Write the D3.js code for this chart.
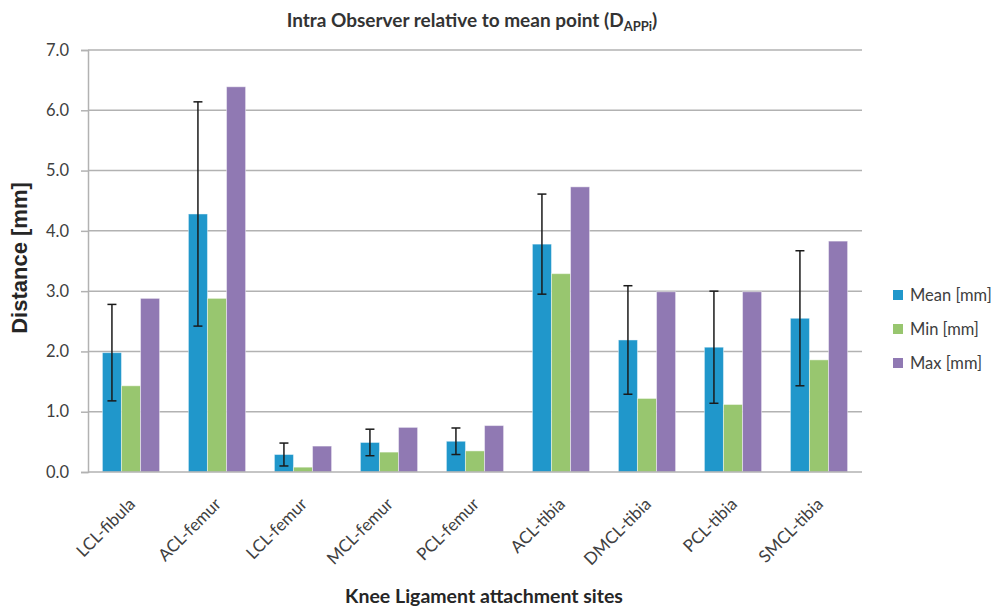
<!DOCTYPE html>
<html>
<head>
<meta charset="utf-8">
<script src="https://cdn.jsdelivr.net/npm/d3@7/dist/d3.min.js"></script>
<style>
  html, body { margin: 0; padding: 0; background: #fff; }
  svg { display: block; }
</style>
</head>
<body>
<svg id="chart" width="996" height="611"></svg>
<script>
// ---- Data ----
const categories = ["LCL-fibula","ACL-femur","LCL-femur","MCL-femur","PCL-femur","ACL-tibia","DMCL-tibia","PCL-tibia","SMCL-tibia"];
const meanVals = [1.98, 4.28, 0.29, 0.49, 0.51, 3.78, 2.19, 2.07, 2.55];
const minVals  = [1.43, 2.88, 0.08, 0.33, 0.35, 3.29, 1.22, 1.12, 1.86];
const maxVals  = [2.88, 6.39, 0.43, 0.74, 0.77, 4.73, 2.99, 2.99, 3.83];
const sdVals   = [0.80, 1.86, 0.19, 0.22, 0.22, 0.83, 0.90, 0.93, 1.12];
const seriesNames = ["Mean [mm]", "Min [mm]", "Max [mm]"];
const seriesColors = ["#2097CB", "#98C66F", "#9079B3"];
const yTicks = [0, 1, 2, 3, 4, 5, 6, 7];

const seriesValues = [meanVals, minVals, maxVals];

// ---- Layout ----
const svg = d3.select("#chart");
const plotLeft = 88, plotRight = 862, plotTop = 50, plotBottom = 472;

const x0 = d3.scaleBand().domain(categories).range([plotLeft, plotRight])
  .paddingInner(0.335).paddingOuter(0.335 / 2);
const x1 = d3.scaleBand().domain(seriesNames).range([0, x0.bandwidth()]).padding(0);
const y = d3.scaleLinear().domain([0, 7]).range([plotBottom, plotTop]);

const gridColor = "#B2B2B2";
const textColor = "#404040";
const font = "Lato, 'Open Sans', sans-serif";

// gridlines
svg.append("g").selectAll("line").data(yTicks.filter(t => t > 0)).join("line")
  .attr("x1", plotLeft).attr("x2", plotRight)
  .attr("y1", d => y(d)).attr("y2", d => y(d))
  .attr("stroke", gridColor).attr("stroke-width", 1.5);

// y axis
const yAxis = svg.append("g").attr("transform", `translate(${plotLeft},0)`)
  .call(d3.axisLeft(y).tickValues(yTicks).tickFormat(d3.format(".1f")).tickSize(7).tickPadding(12));
yAxis.select(".domain").attr("stroke", gridColor).attr("stroke-width", 1.5);
yAxis.selectAll(".tick line").attr("stroke", gridColor).attr("stroke-width", 1.5);
yAxis.selectAll(".tick text").attr("fill", textColor)
  .style("font-family", font).style("font-size", "16.5px");

// bars
const groups = svg.append("g").selectAll("g").data(categories).join("g")
  .attr("transform", d => `translate(${x0(d)},0)`);
groups.selectAll("rect")
  .data((c, i) => seriesNames.map((s, k) => ({ s, k, v: seriesValues[k][i] })))
  .join("rect")
  .attr("x", d => x1(d.s))
  .attr("width", x1.bandwidth())
  .attr("y", d => y(d.v))
  .attr("height", d => y(0) - y(d.v))
  .attr("fill", d => seriesColors[d.k])
  .attr("stroke", "rgba(255,255,255,0.45)")
  .attr("stroke-width", 1);

// x axis line
svg.append("line").attr("x1", plotLeft).attr("x2", plotRight)
  .attr("y1", y(0)).attr("y2", y(0))
  .attr("stroke", gridColor).attr("stroke-width", 1.5);

// error bars
const eb = svg.append("g").selectAll("g").data(categories).join("g")
  .attr("transform", (c) => `translate(${x0(c) + x1(seriesNames[0]) + x1.bandwidth() / 2},0)`);
const cap = 4.5;
eb.append("line")
  .attr("x1", 0).attr("x2", 0)
  .attr("y1", (c, i) => y(meanVals[i] + sdVals[i]))
  .attr("y2", (c, i) => y(meanVals[i] - sdVals[i]))
  .attr("stroke", "#1a1a1a").attr("stroke-width", 1.5);
eb.append("line")
  .attr("x1", -cap).attr("x2", cap)
  .attr("y1", (c, i) => y(meanVals[i] + sdVals[i]))
  .attr("y2", (c, i) => y(meanVals[i] + sdVals[i]))
  .attr("stroke", "#1a1a1a").attr("stroke-width", 1.5);
eb.append("line")
  .attr("x1", -cap).attr("x2", cap)
  .attr("y1", (c, i) => y(meanVals[i] - sdVals[i]))
  .attr("y2", (c, i) => y(meanVals[i] - sdVals[i]))
  .attr("stroke", "#1a1a1a").attr("stroke-width", 1.5);

// x category labels
svg.append("g").selectAll("text").data(categories).join("text")
  .attr("transform", d => `translate(${x0(d) + x0.bandwidth() / 2 + 1},${plotBottom + 29}) rotate(-45)`)
  .attr("text-anchor", "end")
  .attr("dy", "0.35em")
  .attr("fill", textColor)
  .style("font-family", font).style("font-size", "17px")
  .text(d => d);

// title
const title = svg.append("text")
  .attr("x", 472).attr("y", 27)
  .attr("text-anchor", "middle")
  .attr("fill", "#333")
  .style("font-family", font).style("font-size", "19px").style("font-weight", "bold");
title.append("tspan").text("Intra Observer relative to mean point (D");
title.append("tspan").attr("dy", 4).style("font-size", "13px").text("APPi");
title.append("tspan").attr("dy", -4).text(")");

// y axis title
svg.append("text")
  .attr("transform", "translate(27,258) rotate(-90)")
  .attr("text-anchor", "middle")
  .attr("fill", "#262626")
  .style("font-family", "'Liberation Sans', Arial, sans-serif").style("font-size", "22px").style("font-weight", "bold")
  .text("Distance [mm]");

// x axis title
svg.append("text")
  .attr("x", 484).attr("y", 603)
  .attr("text-anchor", "middle")
  .attr("fill", "#262626")
  .style("font-family", font).style("font-size", "19.5px").style("font-weight", "bold")
  .text("Knee Ligament attachment sites");

// legend
const legend = svg.append("g").selectAll("g").data(seriesNames).join("g")
  .attr("transform", (d, i) => `translate(893,${290 + i * 34})`);
legend.append("rect").attr("width", 10).attr("height", 10)
  .attr("fill", (d, i) => seriesColors[i]);
legend.append("text").attr("x", 17).attr("y", 11)
  .attr("fill", textColor)
  .style("font-family", font).style("font-size", "16.5px")
  .text(d => d);
</script>
</body>
</html>
